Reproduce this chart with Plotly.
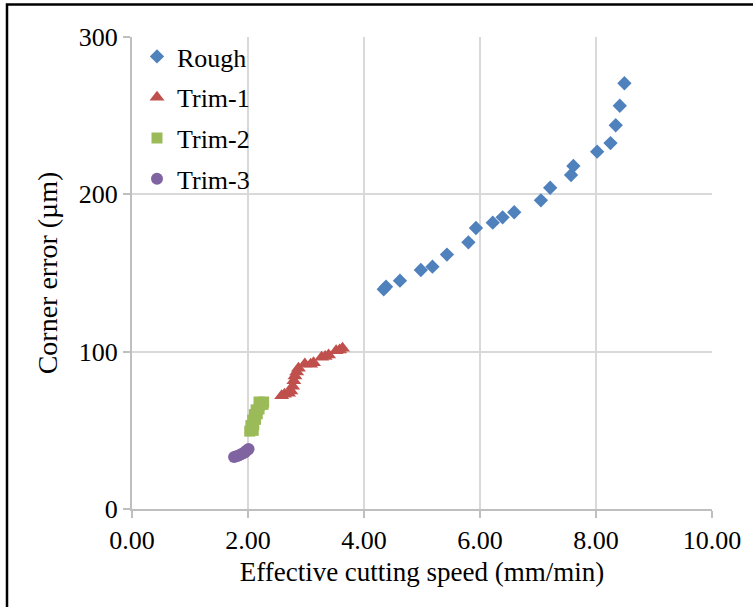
import plotly.graph_objects as go

# Corner error vs. effective cutting speed for each machining pass
rough_x = [4.34, 4.38, 4.62, 4.98, 5.18, 5.43, 5.80, 5.93, 6.22, 6.39, 6.59, 7.05, 7.21, 7.57, 7.61, 8.02, 8.25, 8.34, 8.41, 8.49]
rough_y = [139.6, 141.3, 145.1, 151.9, 154.0, 161.7, 169.5, 178.6, 182.0, 185.4, 188.6, 196.2, 204.2, 212.3, 218.0, 227.1, 232.6, 243.9, 256.3, 270.6]

trim1_x = [2.58, 2.63, 2.70, 2.74, 2.77, 2.79, 2.81, 2.84, 2.87, 2.98, 3.08, 3.13, 3.27, 3.33, 3.39, 3.52, 3.58, 3.63]
trim1_y = [72.0, 73.0, 73.5, 75.0, 78.0, 81.5, 84.5, 87.0, 89.4, 92.2, 92.0, 93.0, 96.4, 97.0, 97.9, 100.6, 101.0, 102.1]

trim2_x = [2.03, 2.09, 2.05, 2.10, 2.08, 2.13, 2.11, 2.16, 2.14, 2.19, 2.20, 2.26, 2.19, 2.27]
trim2_y = [49.5, 50.0, 53.0, 53.5, 56.5, 57.0, 60.0, 60.5, 63.0, 63.5, 66.0, 66.5, 68.0, 68.0]

trim3_x = [1.76, 1.80, 1.84, 1.88, 1.92, 1.95, 1.98, 2.01]
trim3_y = [33.0, 33.5, 34.0, 34.8, 35.5, 36.3, 37.2, 38.2]

x_ticks = [0, 2, 4, 6, 8, 10]
x_tick_text = ["0.00", "2.00", "4.00", "6.00", "8.00", "10.00"]
y_ticks = [0, 100, 200, 300]

FONT = "Liberation Serif"
GRID = "#D9D9D9"
AXIS = "#BFBFBF"

series = [
    ("Rough", rough_x, rough_y, "diamond", "#4F81BD", 11),
    ("Trim-1", trim1_x, trim1_y, "triangle-up", "#C0504D", 13),
    ("Trim-2", trim2_x, trim2_y, "square", "#9BBB59", 11),
    ("Trim-3", trim3_x, trim3_y, "circle", "#8064A2", 12),
]

fig = go.Figure()
for name, xs, ys, sym, col, sz in series:
    fig.add_trace(go.Scatter(
        x=xs, y=ys, mode="markers", name=name, legendgroup=name,
        marker=dict(symbol=sym, color=col, size=sz, line=dict(width=0)),
    ))

# outer frame around the whole chart
px_l, px_t = 132, 37
pw, ph = 580, 472
def fx(px):
    return (px - px_l) / pw
def fy(py):
    return (px_t + ph - py) / ph

fig.add_shape(type="rect", xref="paper", yref="paper",
              x0=fx(7), x1=fx(770), y0=fy(4.5), y1=fy(620),
              line=dict(color="black", width=2.5), fillcolor="rgba(0,0,0,0)",
              layer="below")

tick_font = dict(family=FONT, size=26, color="black")

fig.update_layout(
    width=753, height=607, autosize=False,
    margin=dict(l=132, r=41, t=37, b=98),
    paper_bgcolor="white", plot_bgcolor="white",
    font=dict(family=FONT, size=26, color="black"),
    showlegend=True,
    legend=dict(x=fx(137), y=fy(33), xanchor="left", yanchor="top",
                bgcolor="rgba(0,0,0,0)", font=dict(family=FONT, size=26),
                tracegroupgap=4, itemwidth=30),
    xaxis=dict(range=[0, 10], tickvals=x_ticks, ticktext=x_tick_text,
               tickfont=tick_font,
               showgrid=True, gridcolor=GRID, gridwidth=2,
               showline=True, linecolor=AXIS, linewidth=2,
               ticks="outside", ticklen=7, tickcolor=AXIS, tickwidth=2,
               zeroline=False,
               title=dict(text="Effective cutting speed (mm/min)", standoff=8,
                          font=dict(family=FONT, size=27))),
    yaxis=dict(range=[0, 300], tickvals=y_ticks, tickfont=tick_font,
               showgrid=True, gridcolor=GRID, gridwidth=2,
               showline=True, linecolor=AXIS, linewidth=2,
               ticks="outside", ticklen=7, tickcolor=AXIS, tickwidth=2,
               zeroline=False,
               title=dict(text="Corner error (µm)", standoff=13,
                          font=dict(family=FONT, size=28))),
)

fig.write_html("out.html")
